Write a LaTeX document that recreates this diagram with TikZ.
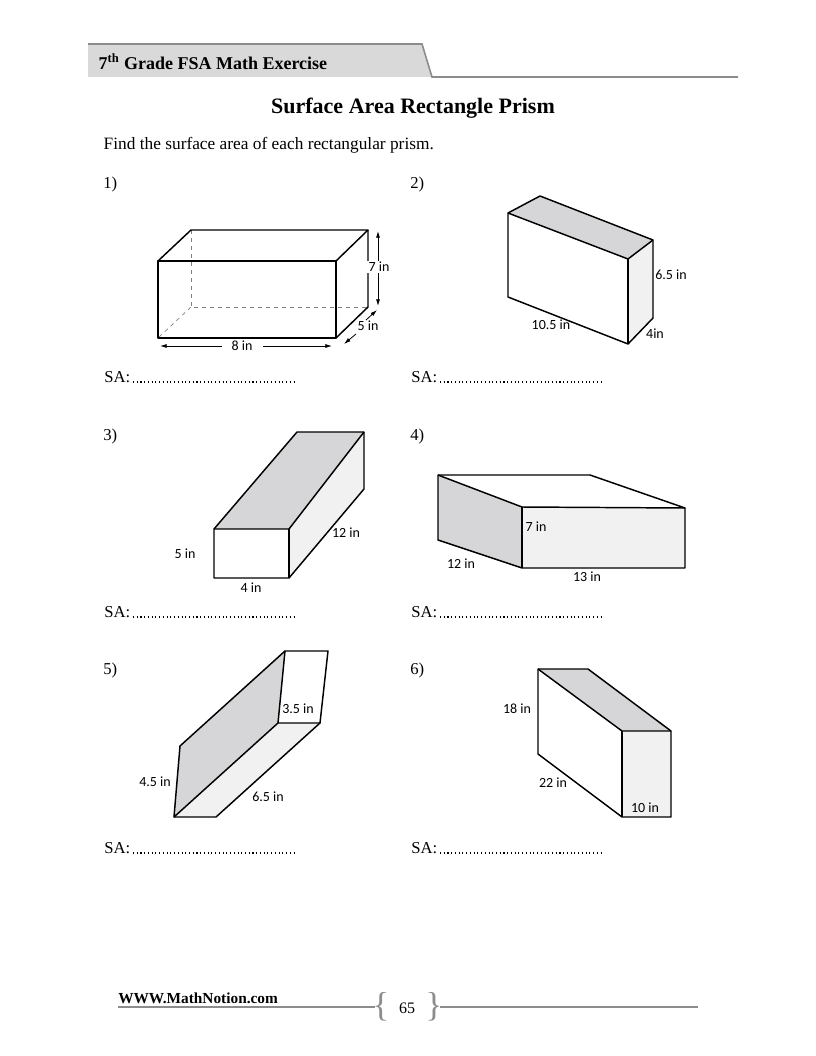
\documentclass[tikz,border=0pt]{standalone}
\usepackage{fontspec}
\setmainfont{Liberation Serif}
\newfontfamily\lab{Carlito}
\usetikzlibrary{arrows.meta}
\definecolor{topgray}{HTML}{D6D6D8}
\definecolor{lightgray2}{HTML}{F1F1F1}
\definecolor{bandgray}{HTML}{D9D9D9}
\definecolor{rulegray}{HTML}{8C8C8C}
\begin{document}
\begin{tikzpicture}[x=0.75pt,y=-0.75pt,
  edge/.style={line width=1.1pt,line join=round},
  lbl/.style={font=\lab\fontsize{10.5}{12}\selectfont,inner sep=1pt},
  num/.style={font=\fontsize{12.5}{14}\selectfont,anchor=west,inner sep=0pt},
  sa/.style={font=\fontsize{12.5}{14}\selectfont,anchor=west,inner sep=0pt},
  dots/.style={dotted,line width=0.8pt},
  dim/.style={-{Latex[length=5pt,width=3pt]},line width=0.6pt}]
\useasboundingbox (0,0) rectangle (816,1056);
\fill[white] (0,0) rectangle (816,1056);
% header
\fill[bandgray] (88,44) -- (422,44) -- (432,77) -- (88,77) -- cycle;
\draw[rulegray,line width=1.2pt] (88,44) -- (422,44) -- (432,77) -- (738,77);
\node[anchor=west,font=\bfseries\fontsize{13.5}{15}\selectfont] (hdr) at (94,62) {7\textsuperscript{th} Grade FSA Math Exercise};
\node[font=\bfseries\fontsize{16.5}{19}\selectfont] (title) at (413,108) {Surface Area Rectangle Prism};
\node[anchor=west,font=\fontsize{13}{15}\selectfont] (intro) at (99,145) {Find the surface area of each rectangular prism.};
% numbers
\node[num] (n1) at (103,184) {1)};
\node[num] (n2) at (410,184) {2)};
\node[num] (n3) at (103,436) {3)};
\node[num] (n4) at (410,436) {4)};
\node[num] (n5) at (103,670) {5)};
\node[num] (n6) at (410,670) {6)};
% SA lines
\foreach \x/\y/\n in {104/377/a,411/377/b,104/612/c,411/612/d,104/848/e,411/848/f}{
  \node[sa] (sa\n) at (\x,\y) {SA:};
  \draw[dots] (\x+29,\y+5) -- (\x+192,\y+5);
}
% prism 1
\draw[dashed,line width=0.5pt,gray] (191,230) -- (191,307) -- (368,307);
\draw[dashed,line width=0.5pt,gray] (191,307) -- (158,338);
\draw[edge] (158,261) rectangle (336,338);
\draw[edge] (158,261) -- (191,230) -- (368,230) -- (336,261);
\draw[edge] (368,230) -- (368,307) -- (336,338);
\draw[dim] (378,268) -- (378,231);
\draw[dim] (378,268) -- (378,306);
\node[lbl,fill=white] (l7) at (379,267) {7 in};
\draw[dim] (222,346) -- (160,346);
\draw[dim] (263,346) -- (332,346);
\node[lbl] (l8) at (242,346) {8 in};
\draw[dim] (356,334) -- (344,344);
\draw[dim] (366,320) -- (377,310);
\node[lbl] (l5) at (368,326) {5 in};
% prism 2
\fill[topgray] (508,213) -- (540,196) -- (653,240) -- (628,259) -- cycle;
\fill[lightgray2] (628,259) -- (653,240) -- (653,318) -- (628,344) -- cycle;
\draw[edge] (508,213) -- (540,196) -- (653,240) -- (653,318) -- (628,344) -- (508,297) -- cycle;
\draw[edge] (508,213) -- (628,259) -- (653,240);
\draw[edge] (628,259) -- (628,344);
\node[lbl] (l65) at (671,275) {6.5 in};
\node[lbl] (l105) at (551,325) {10.5 in};
\node[lbl] (l4b) at (655,334) {4in};
% prism 3
\fill[topgray] (214,529) -- (297,432) -- (364,432) -- (289,529) -- cycle;
\fill[lightgray2] (289,529) -- (364,432) -- (364,489) -- (289,578) -- cycle;
\draw[edge] (214,529) -- (297,432) -- (364,432) -- (364,489) -- (289,578) -- (214,578) -- cycle;
\draw[edge] (214,529) -- (289,529) -- (364,432);
\draw[edge] (289,529) -- (289,578);
\node[lbl] (l5c) at (185,554) {5 in};
\node[lbl] (l4c) at (251,588) {4 in};
\node[lbl] (l12c) at (346,533) {12 in};
% prism 4
\fill[topgray] (438,475) -- (522,507) -- (522,568) -- (438,540) -- cycle;
\fill[lightgray2] (522,507) -- (685,508) -- (685,568) -- (522,568) -- cycle;
\draw[edge] (438,475) -- (590,475) -- (685,508) -- (685,568) -- (522,568) -- (438,540) -- cycle;
\draw[edge] (438,475) -- (522,507) -- (685,508);
\draw[edge] (522,507) -- (522,568);
\node[lbl] (l7d) at (536,527) {7 in};
\node[lbl] (l12d) at (461,564) {12 in};
\node[lbl] (l13d) at (587,577) {13 in};
% prism 5
\fill[topgray] (285,651) -- (278,723) -- (174,817) -- (180,746) -- cycle;
\fill[lightgray2] (278,723) -- (320,723) -- (216,817) -- (174,817) -- cycle;
\draw[edge] (285,651) -- (328,651) -- (320,723) -- (216,817) -- (174,817) -- (180,746) -- cycle;
\draw[edge] (285,651) -- (278,723) -- (320,723);
\draw[edge] (278,723) -- (174,817);
\node[lbl] (l35) at (298,709) {3.5 in};
\node[lbl] (l45) at (155,782) {4.5 in};
\node[lbl] (l65e) at (268,797) {6.5 in};
% prism 6
\fill[topgray] (538,669) -- (588,669) -- (671,731) -- (622,731) -- cycle;
\fill[lightgray2] (622,731) -- (671,731) -- (671,817) -- (622,817) -- cycle;
\draw[edge] (538,669) -- (588,669) -- (671,731) -- (671,817) -- (622,817) -- (538,754) -- cycle;
\draw[edge] (538,669) -- (622,731) -- (671,731);
\draw[edge] (622,731) -- (622,817);
\node[lbl] (l18) at (517,709) {18 in};
\node[lbl] (l22) at (553,783) {22 in};
\node[lbl] (l10) at (645,808) {10 in};
% footer
\node[anchor=west,font=\bfseries\fontsize{11.5}{13}\selectfont,inner sep=0pt] (web) at (118,998) {WWW.MathNotion.com};
\draw[rulegray,line width=1.2pt] (118,1007) -- (375,1007);
\draw[rulegray,line width=1.2pt] (440,1007) -- (698,1007);
\node[rulegray,font=\fontsize{26}{28}\selectfont] (lb) at (381,1007) {\{};
\node[rulegray,font=\fontsize{26}{28}\selectfont] (rb) at (434,1007) {\}};
\node[font=\fontsize{12}{14}\selectfont] (pg) at (407,1008) {65};
\end{tikzpicture}
\end{document}
